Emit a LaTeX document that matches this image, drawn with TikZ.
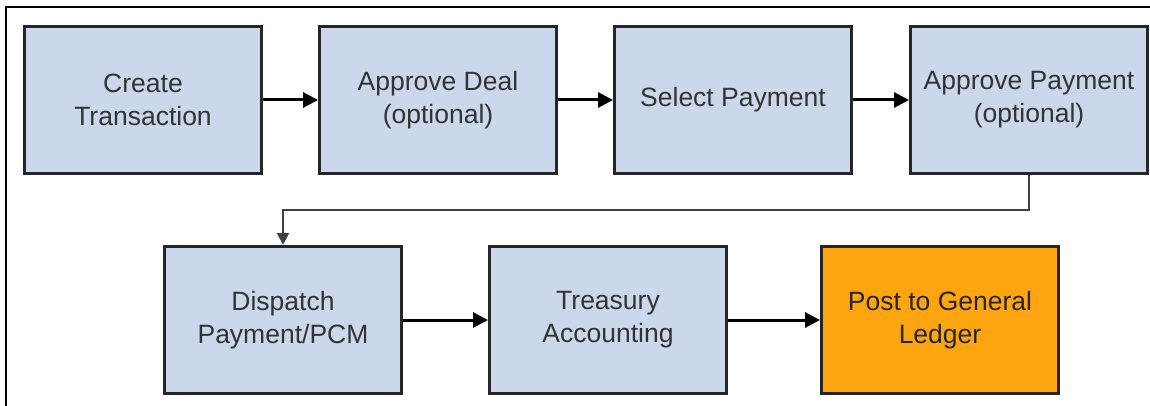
\documentclass[tikz,border=0pt]{standalone}
\usepackage{fontspec}
\setmainfont{Liberation Sans}
\usetikzlibrary{arrows.meta}
\definecolor{boxblue}{HTML}{CBD8EB}
\definecolor{boxorange}{HTML}{FFA50F}
\definecolor{txt}{HTML}{333333}
\begin{document}
\begin{tikzpicture}[x=1pt,y=-1pt,
  stepbox/.style={draw=black!85, line width=3pt, fill=boxblue, minimum width=237pt, minimum height=147pt,
    inner sep=0pt, align=center, text=txt, font=\fontsize{26.5}{33}\selectfont, anchor=north west},
  flow/.style={line width=3pt, draw=black, -{Triangle[length=15pt,width=15pt]}},
  elbow/.style={line width=2pt, draw=black!75, -{Triangle[length=12pt,width=12pt]}}]
\useasboundingbox (0,0) rectangle (1150,406);
\draw[line width=1.5pt] (6,406) -- (6,7) -- (1150,7);
\node[stepbox] (a) at (23,25) {Create\\Transaction};
\node[stepbox] (b) at (318,25) {Approve Deal\\(optional)};
\node[stepbox] (c) at (613,25) {Select Payment};
\node[stepbox] (d) at (909,25) {Approve Payment\\(optional)};
\node[stepbox] (e) at (163,245) {Dispatch\\Payment/PCM};
\node[stepbox] (f) at (488,245) {Treasury\\Accounting};
\node[stepbox, fill=boxorange, text=black!85] (g) at (820,245) {Post to General\\Ledger};
\draw[flow] (a) -- (b);
\draw[flow] (b) -- (c);
\draw[flow] (c) -- (d);
\draw[flow] (e) -- (f);
\draw[flow] (f) -- (g);
\coordinate (k1) at ([yshift=-35pt]d.south);
\draw[elbow] (d.south) -- (k1) -| (e.north);
\end{tikzpicture}
\end{document}
